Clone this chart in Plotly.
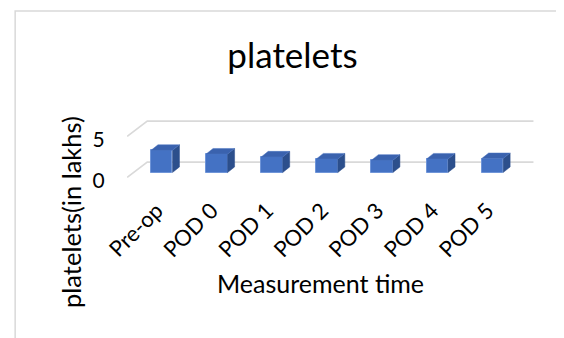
import plotly.graph_objects as go

# ---- data ----
categories = ["Pre-op", "POD 0", "POD 1", "POD 2", "POD 3", "POD 4", "POD 5"]
platelets = [2.7, 2.25, 1.9, 1.65, 1.5, 1.65, 1.7]
y_ticks = [0, 5]

# ---- style constants (3D look) ----
W, H = 564, 338
OFF = 8               # page body margin
BAR_W = 0.39          # bar width in category units
DEPTH_DX = 0.127      # side-face depth offset (x units)
DEPTH_DY = 0.68       # side-face depth offset (y units)
FRONT_DY = -0.6       # front plane offset of value grid
BACK_DY = 1.27        # back wall offset of value grid
LABEL_DY = -0.95      # value label offset (front plane)
LABEL_DX = -0.09      # category label offset (front plane)
FRONT_X = -0.626
BACK_X_L = -0.263
BACK_X_R = 6.745
XR = [-0.63, 6.9]
YR = [-1.4, 7.5]
PXY = 8.25            # pixels per value unit
ML, MT = 126.8 - OFF, 172.5 - YR[1] * PXY - OFF
MR = W - (541.6 - OFF)
MB = H - (172.5 - YR[0] * PXY - OFF)
FONT = "Lato"

xs = list(range(len(categories)))

fig = go.Figure()

# front faces
fig.add_trace(go.Bar(x=xs, y=platelets, width=BAR_W, base=0,
                     marker=dict(color="#4472c4", line=dict(color="#6f95d8", width=1)),
                     showlegend=False, name="platelets"))

# side faces
sx, sy = [], []
for x, v in zip(xs, platelets):
    r = x + BAR_W / 2
    sx += [r, r + DEPTH_DX, r + DEPTH_DX, r, r, None]
    sy += [0, DEPTH_DY, v + DEPTH_DY, v, 0, None]
fig.add_trace(go.Scatter(x=sx, y=sy, mode="lines", fill="toself",
                         fillcolor="#2c4f8c", line=dict(color="#2c4f8c", width=0.5),
                         hoverinfo="skip", showlegend=False))

# top faces
tx, ty = [], []
for x, v in zip(xs, platelets):
    l, r = x - BAR_W / 2, x + BAR_W / 2
    tx += [l, r, r + DEPTH_DX, l + DEPTH_DX, l, None]
    ty += [v, v, v + DEPTH_DY, v + DEPTH_DY, v, None]
fig.add_trace(go.Scatter(x=tx, y=ty, mode="lines", fill="toself",
                         fillcolor="#3a62ae", line=dict(color="#4a74c0", width=0.5),
                         hoverinfo="skip", showlegend=False))

# value grid (floor / back wall), drawn below the bars
for v in y_ticks:
    path = (f"M {FRONT_X},{v + FRONT_DY} L {BACK_X_L},{v + BACK_DY} "
            f"L {BACK_X_R},{v + BACK_DY}")
    fig.add_shape(type="path", path=path, xref="x", yref="y",
                  line=dict(color="#d9d9d9", width=1.6), layer="below")

PW = W - ML - MR
PH = H - MT - MB


def pxx(p):
    return (p - OFF - ML) / PW


def pxy(p):
    return 1 - (p - OFF - MT) / PH


# chart border
fig.add_shape(type="rect", xref="paper", yref="paper",
              x0=pxx(15), x1=pxx(590), y0=pxy(10), y1=pxy(360),
              line=dict(color="#d9d9d9", width=1.5), fillcolor="rgba(0,0,0,0)",
              layer="below")

# axis titles
fig.add_annotation(text="platelets(in lakhs)", textangle=-90, showarrow=False,
                   xref="paper", yref="paper", x=pxx(71), y=pxy(212),
                   xanchor="center", yanchor="middle",
                   font=dict(size=25.5, family=FONT, color="#000"))
fig.add_annotation(text="Measurement time", showarrow=False,
                   xref="paper", yref="paper", x=pxx(320.5), y=pxy(284),
                   xanchor="center", yanchor="middle",
                   font=dict(size=25, family=FONT, color="#000"))

fig.update_layout(
    width=W, height=H,
    margin=dict(l=ML, r=MR, t=MT, b=MB, autoexpand=False),
    paper_bgcolor="white", plot_bgcolor="white",
    font=dict(family=FONT, color="#000000"),
    title=dict(text="platelets", font=dict(size=35, family=FONT, color="#000"),
               x=(292.5 - OFF) / W, xanchor="center", xref="container",
               y=1 - (56 - OFF) / H, yanchor="middle", yref="container"),
    bargap=0,
    xaxis=dict(range=XR, tickmode="array",
               tickvals=[x + LABEL_DX for x in xs], ticktext=categories,
               tickangle=-45, tickfont=dict(size=22, family=FONT),
               ticks="outside", ticklen=9 - (YR[0] + 0.8) * -PXY,
               tickcolor="rgba(0,0,0,0)",
               showgrid=False, zeroline=False, showline=False,
               automargin=False, fixedrange=True),
    yaxis=dict(range=YR, tickmode="array",
               tickvals=[v + LABEL_DY for v in y_ticks],
               ticktext=[str(v) for v in y_ticks],
               tickfont=dict(size=21, family=FONT),
               ticks="outside", ticklen=17, tickcolor="rgba(0,0,0,0)",
               showgrid=False, zeroline=False, showline=False,
               automargin=False, fixedrange=True),
)

fig.write_html("out.html")
